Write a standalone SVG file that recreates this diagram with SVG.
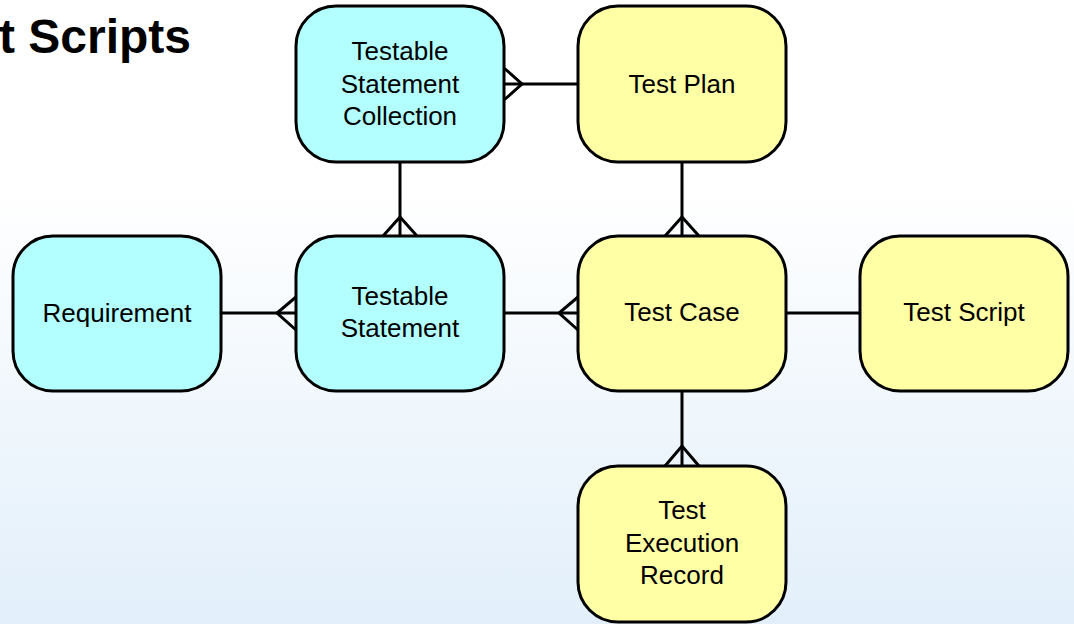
<svg xmlns="http://www.w3.org/2000/svg" width="1074" height="624" viewBox="0 0 1074 624">
  <defs>
    <linearGradient id="bg" x1="0" y1="0" x2="0" y2="1">
      <stop offset="0" stop-color="#ffffff"/>
      <stop offset="0.3" stop-color="#ffffff"/>
      <stop offset="1" stop-color="#e2effa"/>
    </linearGradient>
    <style>
      .box { stroke: #000; stroke-width: 3; }
      .cyan { fill: #b3ffff; }
      .yellow { fill: #ffffa6; }
      .lbl { font-family: "Liberation Sans", Arial, sans-serif; font-size: 26px; fill: #000; text-anchor: middle; }
      .conn { stroke: #000; stroke-width: 3; fill: none; }
      .title { font-family: "Liberation Sans", Arial, sans-serif; font-size: 48px; font-weight: bold; fill: #000; }
    </style>
  </defs>
  <rect x="0" y="0" width="1074" height="624" fill="url(#bg)"/>
  <text class="title" x="-1" y="53">t Scripts</text>

  <g id="connectors">
    <line class="conn" x1="504" y1="84" x2="578" y2="84"/>
    <polyline class="conn" points="504,68 522,84 504,100"/>
    <line class="conn" x1="400" y1="162" x2="400" y2="236"/>
    <polyline class="conn" points="383,236 400,217 417,236"/>
    <line class="conn" x1="221" y1="313" x2="296" y2="313"/>
    <polyline class="conn" points="296,297 277,313 296,330"/>
    <line class="conn" x1="504" y1="313" x2="578" y2="313"/>
    <polyline class="conn" points="578,297 559,313 578,330"/>
    <line class="conn" x1="682" y1="162" x2="682" y2="236"/>
    <polyline class="conn" points="665,236 682,217 699,236"/>
    <line class="conn" x1="786" y1="313" x2="860" y2="313"/>
    <line class="conn" x1="682" y1="391" x2="682" y2="466"/>
    <polyline class="conn" points="665,466 682,446 699,466"/>
  </g>

  <g id="tsc">
    <rect class="box cyan" x="296" y="6" width="208" height="156" rx="40" ry="40"/>
    <text class="lbl" x="400" y="60">Testable</text>
    <text class="lbl" x="400" y="93">Statement</text>
    <text class="lbl" x="400" y="125">Collection</text>
  </g>
  <g id="testplan">
    <rect class="box yellow" x="578" y="6" width="208" height="156" rx="40" ry="40"/>
    <text class="lbl" x="682" y="93">Test Plan</text>
  </g>
  <g id="requirement">
    <rect class="box cyan" x="13" y="236" width="208" height="155" rx="40" ry="40"/>
    <text class="lbl" x="117" y="322">Requirement</text>
  </g>
  <g id="ts">
    <rect class="box cyan" x="296" y="236" width="208" height="155" rx="40" ry="40"/>
    <text class="lbl" x="400" y="305">Testable</text>
    <text class="lbl" x="400" y="337">Statement</text>
  </g>
  <g id="testcase">
    <rect class="box yellow" x="578" y="236" width="208" height="155" rx="40" ry="40"/>
    <text class="lbl" x="682" y="321">Test Case</text>
  </g>
  <g id="testscript">
    <rect class="box yellow" x="860" y="236" width="208" height="155" rx="40" ry="40"/>
    <text class="lbl" x="964" y="321">Test Script</text>
  </g>
  <g id="ter">
    <rect class="box yellow" x="578" y="466" width="208" height="156" rx="40" ry="40"/>
    <text class="lbl" x="682" y="519">Test</text>
    <text class="lbl" x="682" y="552">Execution</text>
    <text class="lbl" x="682" y="584">Record</text>
  </g>
</svg>
